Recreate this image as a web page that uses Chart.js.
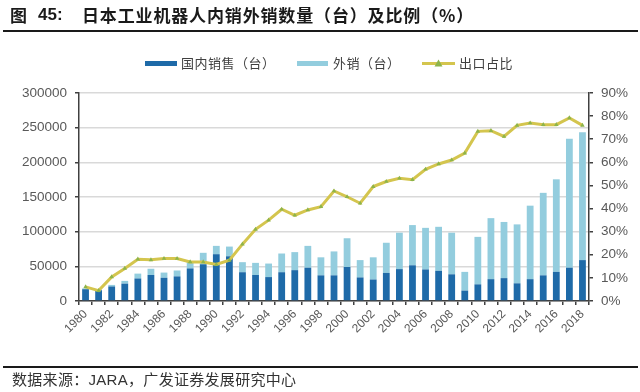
<!DOCTYPE html>
<html>
<head>
<meta charset="utf-8">
<script src="https://cdn.jsdelivr.net/npm/chart.js@4.4.1/dist/chart.umd.min.js"></script>
<style>
  html, body { margin: 0; padding: 0; background: #fff; }
  #wrap { position: relative; width: 640px; height: 392px; overflow: hidden; background: #fff; }
  #c { position: absolute; left: 0; top: 0; }
  .abs { position: absolute; white-space: nowrap; }
  .ttl { top: 4px; font-family: "Noto Sans CJK SC", sans-serif; font-weight: bold; font-size: 17px; color: #1a1a1a; line-height: 22px; }
  .num { font-family: "Liberation Sans", Arial, sans-serif; font-weight: bold; }
  #tline { left: 3px; top: 30px; width: 635px; height: 2px; background: #1a1a1a; }
  #fline { left: 3px; top: 366px; width: 635px; height: 2px; background: #1a1a1a; }
  #foot { left: 12px; top: 369px; font-family: "Noto Sans CJK SC", sans-serif; font-size: 15px; color: #333; line-height: 20px; letter-spacing: 0.3px; }
  #foot .lat { font-family: "Liberation Sans", Arial, sans-serif; }
  .leg { font-family: "Noto Sans CJK SC", sans-serif; font-size: 13px; color: #404040; line-height: 16px; top: 55px; letter-spacing: 0.5px; }
  .box { position: absolute; height: 5px; top: 61px; }
</style>
</head>
<body>
<div id="wrap">
  <canvas id="c" width="640" height="392"></canvas>
  <div class="abs ttl" style="left:10px;">图</div>
  <div class="abs ttl num" style="left:38px;">45:</div>
  <div class="abs ttl" style="left:82px;letter-spacing:0.85px;">日本工业机器人内销外销数量（台）及比例（%）</div>
  <div id="tline" class="abs"></div>
  <div class="box" style="left:145px;width:32px;background:#1E6AA8;"></div>
  <div class="abs leg" style="left:181px;">国内销售（台）</div>
  <div class="box" style="left:297px;width:31px;background:#93CDDE;"></div>
  <div class="abs leg" style="left:333px;">外销（台）</div>
  <div class="box" style="left:422px;width:33px;height:3px;top:62px;background:#D4C54E;"></div>
  <svg class="abs" style="left:434px;top:59px;" width="9" height="8"><polygon points="4.5,0.5 8.5,7.5 0.5,7.5" fill="#8DB44B"/></svg>
  <div class="abs leg" style="left:459px;">出口占比</div>
  <div id="fline" class="abs"></div>
  <div id="foot" class="abs">数据来源：<span class="lat">JARA</span>，广发证券发展研究中心</div>
</div>
<script>
const years = ["1980","1981","1982","1983","1984","1985","1986","1987","1988","1989",
               "1990","1991","1992","1993","1994","1995","1996","1997","1998","1999",
               "2000","2001","2002","2003","2004","2005","2006","2007","2008","2009",
               "2010","2011","2012","2013","2014","2015","2016","2017","2018"];
const domesticSales = [17000,15500,21000,25000,32500,37500,33500,35500,47000,53000,
                       67500,64500,41500,37500,34500,41500,44500,48000,37000,37000,
                       49000,34000,31000,40500,46000,51500,45500,43500,38500,15000,
                       24000,31500,33000,25500,31500,37000,42000,48000,59000];
const exportSales = [1200,1000,2200,4000,7000,9000,7500,8500,9500,16500,
                     12000,14000,14500,17500,19500,27000,26000,31500,26000,34500,
                     41500,25000,32000,43500,52500,58000,60000,63500,60000,27000,
                     68500,88000,81000,85000,106000,119000,133500,186000,184500];
const exportRatio = [6.1,4.5,10.4,14.1,18.1,17.8,18.4,18.4,16.9,16.9,
                     15.8,17.7,24.6,31,35,39.7,37.1,39.4,40.8,47.6,
                     45.1,42.3,49.5,51.7,53.1,52.5,57,59.3,61,64,
                     73.4,73.7,71.2,76,77,76.3,76.3,79.2,76];
const leftTicks = [0,50000,100000,150000,200000,250000,300000];
const rightTicks = [0,10,20,30,40,50,60,70,80,90];

const axisColor = '#404040';
const tickFont = { family: 'Liberation Sans, Arial, sans-serif', size: 13.5 };

new Chart(document.getElementById('c'), {
  type: 'bar',
  data: {
    labels: years,
    datasets: [
      { label: '出口占比', type: 'line', data: exportRatio, yAxisID: 'y1', order: 0,
        borderColor: '#D4C54E', borderWidth: 3, tension: 0,
        pointStyle: 'triangle', pointRadius: 2.6, pointBackgroundColor: '#8DB44B',
        pointBorderColor: '#8DB44B', pointBorderWidth: 0 },
      { label: '国内销售（台）', data: domesticSales, backgroundColor: '#1E6AA8', stack: 's', yAxisID: 'y', order: 2,
        categoryPercentage: 1, barPercentage: 0.52 },
      { label: '外销（台）', data: exportSales, backgroundColor: '#93CDDE', stack: 's', yAxisID: 'y', order: 2,
        categoryPercentage: 1, barPercentage: 0.52 }
    ]
  },
  options: {
    responsive: false,
    animation: false,
    layout: { padding: { top: 93, left: 0, right: 0, bottom: 0 } },
    plugins: { legend: { display: false }, tooltip: { enabled: false } },
    scales: {
      x: {
        stacked: true,
        grid: { offset: true, drawOnChartArea: false, drawTicks: true, tickLength: 4, color: axisColor, lineWidth: 1.5 },
        border: { color: axisColor, width: 1.5 },
        ticks: { autoSkip: false, minRotation: 45, maxRotation: 45, padding: 2,
                 font: { family: 'Liberation Sans, Arial, sans-serif', size: 12 }, color: '#595959',
                 callback: (v, i) => (i % 2 === 0 ? years[i] : '') },
        afterFit: s => { s.height = 91; }
      },
      y: {
        stacked: true, position: 'left', min: leftTicks[0], max: leftTicks[leftTicks.length - 1],
        afterBuildTicks: s => { s.ticks = leftTicks.map(v => ({ value: v })); },
        grid: { color: '#D9D9D9', lineWidth: 1.5, tickColor: axisColor, tickLength: 4,
                drawTicks: true },
        border: { color: axisColor, width: 1.5 },
        ticks: { font: tickFont, color: '#595959', padding: 8, callback: v => String(v) },
        afterFit: s => { s.width = 79; }
      },
      y1: {
        position: 'right', min: rightTicks[0], max: rightTicks[rightTicks.length - 1],
        afterBuildTicks: s => { s.ticks = rightTicks.map(v => ({ value: v })); },
        grid: { drawOnChartArea: false, tickColor: axisColor, tickLength: 4, lineWidth: 1.5 },
        border: { color: axisColor, width: 1.5 },
        ticks: { font: tickFont, color: '#595959', padding: 8, callback: v => v + '%' },
        afterFit: s => { s.width = 51; }
      }
    }
  }
});
</script>
</body>
</html>
